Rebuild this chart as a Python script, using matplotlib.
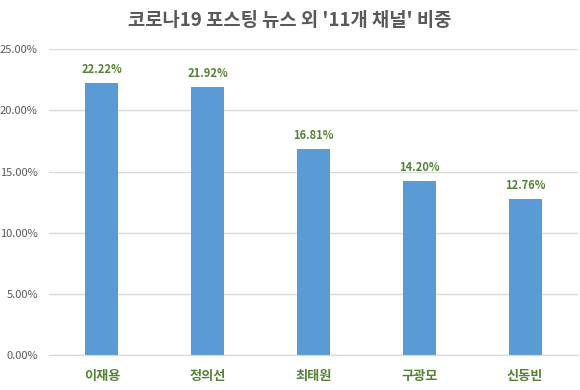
import matplotlib
matplotlib.use('Agg')
import matplotlib.pyplot as plt
from matplotlib.ticker import PercentFormatter

plt.rcParams['font.family'] = ['Noto Sans CJK KR', 'DejaVu Sans']

# data
names = ['이재용', '정의선', '최태원', '구광모', '신동빈']
shares = [22.22, 21.92, 16.81, 14.20, 12.76]
yticks = [0, 5, 10, 15, 20, 25]

bar_color = '#5B9BD5'
green = '#548235'
gray = '#595959'

fig = plt.figure(figsize=(5.8, 3.9), dpi=100)
ax = fig.add_axes([0.0845, 0.0897, 0.912, 0.784])

x = range(len(names))
ax.bar(x, shares, width=0.312, color=bar_color, zorder=3)

for xi, v in zip(x, shares):
    ax.annotate(f'{v:.2f}%', (xi, v), xytext=(0, 5), textcoords='offset points',
                ha='center', va='bottom', color=green, fontsize=8, fontweight='bold')

ax.set_xlim(-0.5, len(names) - 0.5)
ax.set_ylim(0, 25)
ax.set_yticks(yticks)
ax.yaxis.set_major_formatter(PercentFormatter(decimals=2))
ax.grid(axis='y', color='#D9D9D9', linewidth=1, zorder=0)

ax.set_xticks(list(x))
ax.set_xticklabels(names, color=green, fontsize=9.5, fontweight='bold')
ax.tick_params(axis='x', length=0, pad=10)
ax.tick_params(axis='y', length=0, colors=gray, labelsize=8, pad=8)

for s in ['top', 'right', 'left']:
    ax.spines[s].set_visible(False)
ax.spines['bottom'].set_color('#D9D9D9')
ax.spines['bottom'].set_zorder(4)

fig.text(0.5, 0.948, "코로나19 포스팅 뉴스 외 '11개 채널' 비중", ha='center', va='center',
         fontsize=13.5, fontweight='bold', color=gray)

fig.savefig('out.png', dpi=100)
